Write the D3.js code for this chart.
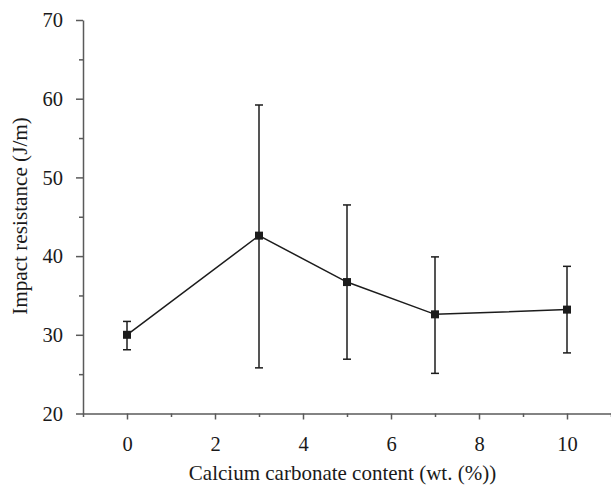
<!DOCTYPE html>
<html>
<head>
<meta charset="utf-8">
<script src="https://cdn.jsdelivr.net/npm/d3@7"></script>
<style>
  html, body { margin: 0; padding: 0; background: #fff; }
  svg { display: block; }
  text { font-family: 'Liberation Serif', 'Times New Roman', serif; fill: #1a1a1a; }
</style>
</head>
<body>
<div id="chart"></div>
<script>
// calcium carbonate content (wt. %) and impact resistance (J/m)
var content = [0, 3, 5, 7, 10]
var impact = [30.0, 42.6, 36.7, 32.6, 33.2]
var errHigh = [31.7, 59.2, 46.5, 39.9, 38.7]
var errLow = [28.1, 25.8, 26.9, 25.1, 27.7]

var xMajor = [0, 2, 4, 6, 8, 10]
var xMinor = [-1, 1, 3, 5, 7, 9, 11]
var yMajor = [20, 30, 40, 50, 60, 70]
var yMinor = [25, 35, 45, 55, 65]

var width = 611
var height = 486
var margin = { top: 20, left: 83, right: 0, bottom: 72.5 }

var svg = d3
  .select('#chart')
  .append('svg')
  .attr('width', width)
  .attr('height', height)

var x = d3.scaleLinear().domain([-1, 11]).range([margin.left, width - margin.right])
var y = d3.scaleLinear().domain([20, 70]).range([height - margin.bottom, margin.top])

var axisColor = '#5a5a5a'
var ink = '#1c1c1c'

// y axis, major + minor ticks
var yAxisG = svg.append('g').attr('transform', 'translate(' + margin.left + ',0)')
yAxisG.call(d3.axisLeft(y).tickValues(yMajor).tickSize(7).tickSizeOuter(0).tickPadding(13))
svg.append('g')
  .attr('transform', 'translate(' + margin.left + ',0)')
  .call(d3.axisLeft(y).tickValues(yMinor).tickSize(4).tickFormat(''))
  .select('.domain').remove()

// x axis
var x0 = height - margin.bottom
var xAxisG = svg.append('g').attr('transform', 'translate(0,' + x0 + ')')
xAxisG.call(d3.axisBottom(x).tickValues(xMajor).tickSize(6).tickSizeOuter(0))
svg.append('g')
  .attr('transform', 'translate(0,' + x0 + ')')
  .call(d3.axisBottom(x).tickValues(xMinor).tickSize(3.5).tickFormat(''))
  .select('.domain').remove()

svg.selectAll('.domain, .tick line')
  .attr('stroke', axisColor)
  .attr('stroke-width', 1.5)

yAxisG.selectAll('text')
  .attr('font-size', 20.5)
  .attr('dy', '0.33em')
  .attr('fill', '#1a1a1a')
xAxisG.selectAll('text')
  .attr('font-size', 20.5)
  .attr('y', 450.5 - x0)
  .attr('dy', null)
  .attr('fill', '#1a1a1a')

// axis titles
svg.append('text')
  .attr('x', 342.5)
  .attr('y', 480)
  .attr('text-anchor', 'middle')
  .attr('font-size', 21)
  .text('Calcium carbonate content (wt. (%))')

svg.append('text')
  .attr('transform', 'translate(27,216) rotate(-90)')
  .attr('text-anchor', 'middle')
  .attr('font-size', 21.2)
  .text('Impact resistance (J/m)')

var points = content.map(function(c, i) {
  return { c: c, v: impact[i], hi: errHigh[i], lo: errLow[i] }
})

// connecting line
var line = d3.line()
  .x(function(d) { return x(d.c) })
  .y(function(d) { return y(d.v) })

svg.append('path')
  .datum(points)
  .attr('d', line)
  .attr('fill', 'none')
  .attr('stroke', ink)
  .attr('stroke-width', 1.5)

// error bars
var bars = svg.selectAll('.err').data(points).enter().append('g').attr('class', 'err')
bars.append('line')
  .attr('x1', function(d) { return x(d.c) })
  .attr('x2', function(d) { return x(d.c) })
  .attr('y1', function(d) { return y(d.hi) })
  .attr('y2', function(d) { return y(d.lo) })
  .attr('stroke', ink)
  .attr('stroke-width', 1.5)
bars.selectAll('.cap')
  .data(function(d) { return [{ c: d.c, v: d.hi }, { c: d.c, v: d.lo }] })
  .enter().append('line')
  .attr('class', 'cap')
  .attr('x1', function(d) { return x(d.c) - 4 })
  .attr('x2', function(d) { return x(d.c) + 4 })
  .attr('y1', function(d) { return y(d.v) })
  .attr('y2', function(d) { return y(d.v) })
  .attr('stroke', ink)
  .attr('stroke-width', 1.5)

// square markers
svg.selectAll('.mark').data(points).enter().append('rect')
  .attr('class', 'mark')
  .attr('x', function(d) { return x(d.c) - 4 })
  .attr('y', function(d) { return y(d.v) - 4 })
  .attr('width', 8)
  .attr('height', 8)
  .attr('fill', ink)
</script>
</body>
</html>
